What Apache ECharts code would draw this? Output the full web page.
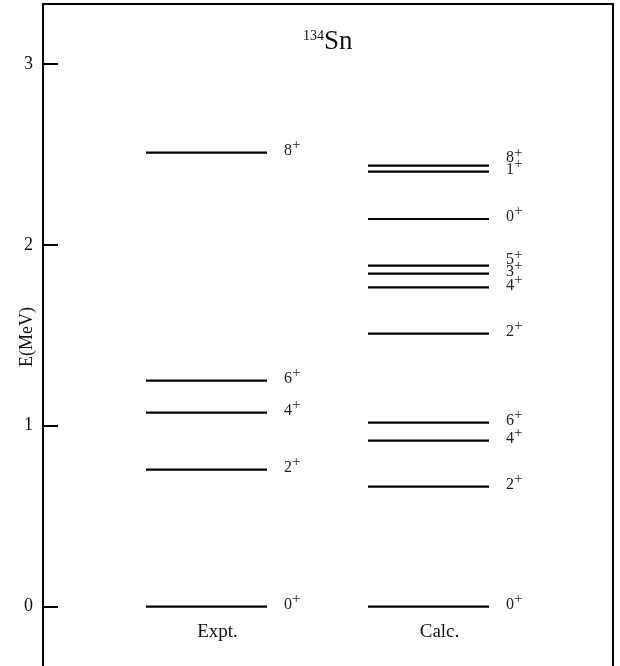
<!DOCTYPE html>
<html><head><meta charset="utf-8">
<script src="https://cdn.jsdelivr.net/npm/echarts@6/dist/echarts.min.js"></script>
<style>html,body{margin:0;padding:0;background:#fff}#c{width:620px;height:666px}</style>
</head><body><div id="c"></div>
<script>
// ---- data ----
const columns = ['Expt.', 'Calc.'];
const exptEnergies = [0, 0.757, 1.072, 1.249, 2.510];
const exptSpins = ['0', '2', '4', '6', '8'];
const calcEnergies = [0, 0.663, 0.917, 1.017, 1.509, 1.765, 1.841, 1.885, 2.143, 2.405, 2.438];
const calcSpins = ['0', '2', '4', '6', '2', '4', '3', '5', '0', '1', '8'];
const parity = '+';
const yTicks = [0, 1, 2, 3];
const titleMass = '134';
const titleElement = 'Sn';
const yAxisTitle = 'E(MeV)';

// ---- chart ----
const FONT = '"Liberation Serif", "DejaVu Serif", serif';
const chart = echarts.init(document.getElementById('c'), null, {renderer: 'canvas'});
const levelSets = [exptEnergies, calcEnergies];
const spinSets = [exptSpins, calcSpins];
const HALF = 0.2725;

function levelRender(params, api) {
  const col = api.value(0);
  const idx = api.value(2);
  const E = api.value(1);
  const p1 = api.coord([col - HALF, E]);
  const p2 = api.coord([col + HALF, E]);
  // declutter labels within the column
  const ens = levelSets[col];
  const ys = ens.map(e => api.coord([col, e])[1] - 2);
  for (let k = 1; k < ys.length; k++) ys[k] = Math.min(ys[k], ys[k - 1] - 11.5);
  return {
    type: 'group',
    children: [
      {type: 'line', shape: {x1: p1[0], y1: p1[1], x2: p2[0], y2: p2[1]},
       style: {stroke: '#000', lineWidth: 2.2}},
      {type: 'text', x: p2[0] + 17, y: ys[idx],
       style: {text: '{d|' + spinSets[col][idx] + '}{s|' + parity + '}',
         align: 'left', verticalAlign: 'middle', fill: '#222',
         rich: {
           d: {fontSize: 16, fontFamily: FONT, fill: '#222', lineHeight: 16},
           s: {fontSize: 15, fontFamily: FONT, fill: '#222', lineHeight: 16, padding: [0, 0, 11, 0]}
         }}}
    ]
  };
}

function colRender(params, api) {
  const col = api.value(0);
  const p = api.coord([col, 0]);
  return {type: 'text', x: p[0] + 11, y: p[1] + 25,
    style: {text: columns[col], align: 'center', verticalAlign: 'middle',
      fill: '#111', font: '19px ' + FONT}};
}

const exptData = exptEnergies.map((e, i) => [0, e, i]);
const calcData = calcEnergies.map((e, i) => [1, e, i]);

chart.setOption({
  animation: false,
  backgroundColor: '#fff',
  grid: {left: 43, right: 7, top: 4, bottom: -4, show: true, borderColor: '#000', borderWidth: 2,
         backgroundColor: 'transparent', containLabel: false, outerBoundsMode: 'none'},
  xAxis: {type: 'value', min: -0.7365, max: 1.831, show: false},
  yAxis: {
    type: 'value', min: -0.351, max: 3.332, position: 'left',
    name: yAxisTitle, nameLocation: 'middle', nameGap: 7, nameRotate: 90, nameMoveOverlap: false,
    nameTextStyle: {fontSize: 18, fontFamily: FONT, color: '#111'},
    axisLine: {show: false, onZero: false},
    axisTick: {show: true, inside: true, length: 15, customValues: yTicks, lineStyle: {color: '#000', width: 2}},
    axisLabel: {show: true, customValues: yTicks, fontSize: 18, fontFamily: FONT, color: '#111', margin: 10},
    splitLine: {show: false}
  },
  graphic: [{
    type: 'text', left: 303, top: 28,
    style: {text: '{a|' + titleMass + '}{b|' + titleElement + '}',
      rich: {a: {fontSize: 14, fontFamily: FONT, fill: '#111', lineHeight: 26, padding: [0, 0, 10, 0]},
             b: {fontSize: 27, fontFamily: FONT, fill: '#111', lineHeight: 26}}}
  }],
  series: [
    {type: 'custom', renderItem: levelRender, data: exptData, silent: true},
    {type: 'custom', renderItem: levelRender, data: calcData, silent: true},
    {type: 'custom', renderItem: colRender, data: [[0], [1]], silent: true}
  ]
});
</script></body></html>
